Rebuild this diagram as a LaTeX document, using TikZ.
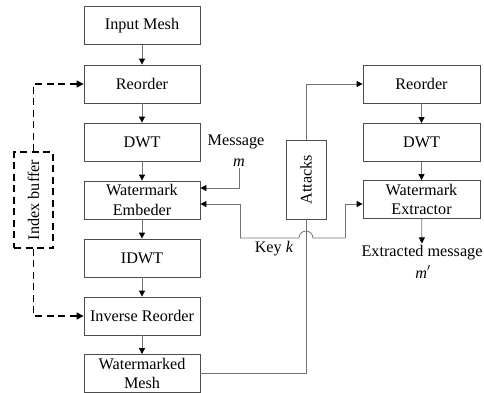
\documentclass[tikz,border=0pt]{standalone}
\usepackage{fontspec}
\setmainfont{Liberation Serif}
\usetikzlibrary{arrows.meta}
\begin{document}
\begin{tikzpicture}[x=1pt,y=-1pt,
  txt/.style={font=\fontsize{16.2}{19.5}\selectfont},
  blk/.style={txt, draw=black!70, line width=0.8pt, minimum width=116pt,
              minimum height=38pt, inner sep=0pt, align=center},
  conn/.style={draw=black!55, line width=0.8pt},
  arr/.style={conn, -{Triangle[length=6pt,width=6pt,fill=black,color=black]}},
  dsh/.style={draw=black, line width=1.4pt, dash pattern=on 7pt off 4.5pt},
  darr/.style={dsh, -{Triangle[length=7pt,width=7pt,fill=black]}}]
\useasboundingbox (0,0) rectangle (484,392);

% main embedding chain
\node[blk] (inmesh) at (142,25.5) {Input Mesh};
\node[blk] (reord)  at (142,84)   {Reorder};
\node[blk] (dwt)    at (142,142)  {DWT};
\node[blk] (emb)    at (142,200)  {Watermark\\Embeder};
\node[blk] (idwt)   at (142,258)  {IDWT};
\node[blk] (irord)  at (142,316)  {Inverse Reorder};
\node[blk] (wmesh)  at (142,373.5){Watermarked\\Mesh};

% extraction chain
\node[blk, minimum width=117pt] (reord2) at (421.5,84)    {Reorder};
\node[blk, minimum width=117pt] (dwt2)   at (421.5,142.5) {DWT};
\node[blk, minimum width=117pt] (extr)   at (421.5,199.5) {Watermark\\Extractor};

% attacks and index buffer
\node[blk, minimum width=40pt, minimum height=79pt] (att) at (306,179.5) {};
\node[txt, rotate=90] (attl) at (att) {Attacks};
\node[txt, draw=black, line width=1.4pt, dash pattern=on 7pt off 4.5pt,
      minimum width=39pt, minimum height=96pt, inner sep=0pt] (ibuf) at (33.5,200) {};
\node[txt, rotate=90] (ibufl) at (ibuf) {Index buffer};

% labels
\node[txt] (msg) at (236,142) {Message};
\node[txt, inner sep=1pt] (m) at (239,163) {\textit{m}};
\node[txt] (key) at (274,249) {Key \textit{k}};
\node[txt, inner sep=2pt] (extmsg) at (422,253) {Extracted message};
\node[txt] (mp) at (423,272) {\textit{m}$'$};

% chain arrows
\draw[arr] (inmesh) -- (reord);
\draw[arr] (reord) -- (dwt);
\draw[arr] (dwt) -- (emb);
\draw[arr] (emb) -- (idwt);
\draw[arr] (idwt) -- (irord);
\draw[arr] (irord) -- (wmesh);
\draw[arr] (reord2) -- (dwt2);
\draw[arr] (dwt2) -- (extr);
\draw[arr] (extr) -- (extmsg);

% index buffer links
\draw[darr] (ibuf.north) |- (reord.west);
\draw[darr] (ibuf.south) |- (irord.west);

% message input
\draw[arr] (m.south) |- ([yshift=12pt]emb.east);

% key distribution with a hop over the attack line
\coordinate (keyL) at (240,238);
\coordinate (keyR) at (345,238);
\draw[arr] (keyL) |- ([yshift=-4pt]emb.east);
\draw[conn] (keyL) -- (299,238) arc[start angle=180, end angle=360, radius=7] -- (keyR);
\draw[arr] (keyR) |- ([yshift=-4.5pt]extr.west);

% attacked mesh path
\draw[conn] (wmesh.east) -| (att.south);
\draw[arr] (att.north) |- (reord2.west);
\end{tikzpicture}
\end{document}
